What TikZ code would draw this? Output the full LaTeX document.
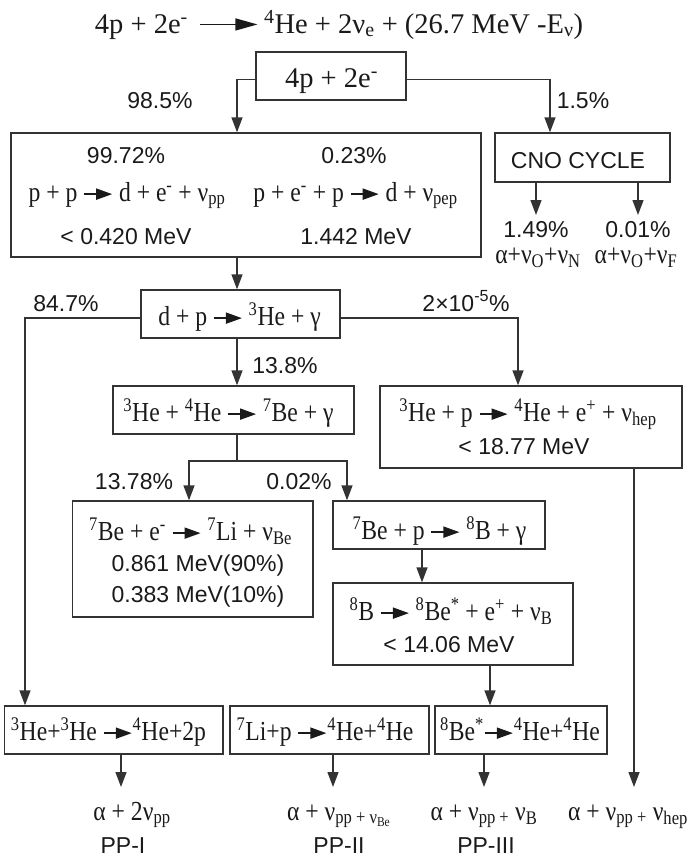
\documentclass[tikz,border=0pt]{standalone}
\usepackage{fontspec}
\setmainfont{Liberation Serif}
\newfontfamily\eqf{Liberation Serif}[FakeStretch=0.86]
\newfontfamily\sff{Liberation Sans}
\usetikzlibrary{arrows.meta,calc}
\definecolor{linecol}{HTML}{333333}
\definecolor{txtcol}{HTML}{1A1A1A}
\newcommand\rarr[1][28pt]{\tikz[baseline=-0.25em]\draw[line width=1.8pt,-{Triangle[length=16pt,width=11pt]}] (0pt,0pt)--(#1,0pt);}
\newcommand\tarr{\tikz[baseline=-0.3em]\draw[line width=1.3pt,-{Triangle[length=22pt,width=12pt]}] (0pt,0pt)--(57pt,0pt);}
\begin{document}
\begin{tikzpicture}[x=1pt,y=-1pt,
  box/.style={draw=linecol,line width=1.3pt,inner sep=0pt},
  arr/.style={draw=linecol,line width=1.3pt,-{Triangle[length=15pt,width=11pt]}},
  ln/.style={draw=linecol,line width=1.3pt},
  tx/.style={inner sep=0pt,anchor=base,text=txtcol},
  eqt/.style={tx,font=\eqf\fontsize{27.5}{32}\selectfont},
  pct/.style={tx,font=\sff\fontsize{23}{28}\selectfont},
  ttl/.style={tx,font=\rmfamily\fontsize{28.5}{34}\selectfont}]
\useasboundingbox (0,0) rectangle (686,862);
\fill[white] (0,0) rectangle (686,862);

% boxes
\node[box,minimum width=150pt,minimum height=48pt] (top) at (331,76) {};
\node[box,minimum width=470pt,minimum height=124pt] (big) at (246,195) {};
\node[box,minimum width=175pt,minimum height=49pt] (cno) at (582.5,157.5) {};
\node[box,minimum width=199pt,minimum height=48pt] (dp) at (240.5,314) {};
\node[box,minimum width=241pt,minimum height=48pt] (he34) at (233.5,410) {};
\node[box,minimum width=302pt,minimum height=82pt] (hep) at (531,427) {};
\node[box,minimum width=240.5pt,minimum height=116pt] (be7e) at (192.75,559) {};
\node[box,minimum width=212pt,minimum height=48pt] (be7p) at (439,525) {};
\node[box,minimum width=240pt,minimum height=82pt] (b8) at (453,624) {};
\node[box,minimum width=218.6pt,minimum height=48pt] (pp1) at (113.7,730) {};
\node[box,minimum width=199pt,minimum height=48pt] (pp2) at (329.5,730) {};
\node[box,minimum width=172pt,minimum height=48pt] (pp3) at (521,730) {};

% helper coordinates
\coordinate (xA) at (237,0);
\coordinate (xB) at (550,0);
\coordinate (xC) at (25,0);
\coordinate (xD) at (518,0);
\coordinate (split) at (237,461);
\coordinate (xE) at (189,0);
\coordinate (xF) at (347,0);
\coordinate (xG) at (422,0);
\coordinate (xH) at (490,0);
\coordinate (endI) at (634,787);
\coordinate (end1) at (121,787);
\coordinate (end2) at (333,787);
\coordinate (end3) at (484,787);
\coordinate (endc1) at (536,215);
\coordinate (endc2) at (638,215);

% connectors
\draw[arr] ([yshift=-3.5pt]top.west) -| (xA |- big.north);
\draw[arr] ([yshift=-3.5pt]top.east) -| (xB |- cno.north);
\draw[arr] (endc1 |- cno.south) -- (endc1);
\draw[arr] (endc2 |- cno.south) -- (endc2);
\draw[arr] (xA |- big.south) -- (xA |- dp.north);
\draw[arr] ([yshift=-4pt]dp.west) -| (xC |- pp1.north);
\draw[arr] ([yshift=-4pt]dp.east) -| (xD |- hep.north);
\draw[arr] (xA |- dp.south) -- (xA |- he34.north);
\draw[ln] (xA |- he34.south) -- (split);
\draw[arr] (split) -| (xE |- be7e.north);
\draw[arr] (split) -| (xF |- be7p.north);
\draw[arr] (xG |- be7p.south) -- (xG |- b8.north);
\draw[arr] (xH |- b8.south) -- (xH |- pp3.north);
\draw[arr] (endI |- hep.south) -- (endI);
\draw[arr] (end1 |- pp1.south) -- (end1);
\draw[arr] (end2 |- pp2.south) -- (end2);
\draw[arr] (end3 |- pp3.south) -- (end3);

% texts
\node[ttl] (title) at (339,33) {4p + 2e\textsuperscript{-}\hspace{12pt}\tarr\hspace{6pt}\textsuperscript{4}He + 2ν\textsubscript{e} + (26.7 MeV -E\textsubscript{ν})};
\node[ttl] (toptx) at (331.5,87) {4p + 2e\textsuperscript{-}};
\node[pct] (p985) at (160,108) {98.5\%};
\node[pct] (p15) at (583,108) {1.5\%};
\node[pct] (p9972) at (126,163) {99.72\%};
\node[pct] (p023) at (354,163) {0.23\%};
\node[eqt] (eq1) at (127,201) {p + p \rarr{} d + e\textsuperscript{-} + ν\textsubscript{pp}};
\node[eqt] (eq2) at (355.5,201) {p + e\textsuperscript{-} + p \rarr{} d + ν\textsubscript{pep}};
\node[pct] (e0420) at (126,244) {< 0.420 MeV};
\node[pct] (e1442) at (356,244) {1.442 MeV};
\node[pct] (cnotx) at (578,168) {CNO CYCLE};
\node[pct] (p149) at (536,237) {1.49\%};
\node[pct] (p001) at (638,237) {0.01\%};
\node[eqt] (acno1) at (538,263) {α+ν\textsubscript{O}+ν\textsubscript{N}};
\node[eqt] (acno2) at (636,263) {α+ν\textsubscript{O}+ν\textsubscript{F}};
\node[pct] (p847) at (66,311) {84.7\%};
\node[pct] (p2e5) at (466,311) {2×10\textsuperscript{-5}\%};
\node[eqt] (dptx) at (239.5,325) {d + p \rarr{} \textsuperscript{3}He + γ};
\node[pct] (p138) at (285,373) {13.8\%};
\node[eqt] (he34tx) at (228.5,421) {\textsuperscript{3}He + \textsuperscript{4}He \rarr{} \textsuperscript{7}Be + γ};
\node[eqt] (hep1) at (528,421) {\textsuperscript{3}He + p \rarr{} \textsuperscript{4}He + e\textsuperscript{+} + ν\textsubscript{hep}};
\node[pct] (hep2) at (524,454) {< 18.77 MeV};
\node[pct] (p1378) at (134,489) {13.78\%};
\node[pct] (p002) at (299,489) {0.02\%};
\node[eqt] (be7e1) at (190.5,540) {\textsuperscript{7}Be + e\textsuperscript{-} \rarr{} \textsuperscript{7}Li + ν\textsubscript{Be}};
\node[pct] (be7e2) at (198,571) {0.861 MeV(90\%)};
\node[pct] (be7e3) at (198,602) {0.383 MeV(10\%)};
\node[eqt] (be7ptx) at (439.5,539) {\textsuperscript{7}Be + p \rarr{} \textsuperscript{8}B + γ};
\node[eqt] (b81) at (451,620) {\textsuperscript{8}B \rarr{} \textsuperscript{8}Be\textsuperscript{*} + e\textsuperscript{+} + ν\textsubscript{B}};
\node[pct] (b82) at (449,652) {< 14.06 MeV};
\node[eqt] (pp1tx) at (108.5,740) {\textsuperscript{3}He+\textsuperscript{3}He \rarr{}\textsuperscript{4}He+2p};
\node[eqt] (pp2tx) at (325,740) {\textsuperscript{7}Li+p \rarr{}\textsuperscript{4}He+\textsuperscript{4}He};
\node[eqt] (pp3tx) at (520,740) {\textsuperscript{8}Be\textsuperscript{*}\rarr{}\textsuperscript{4}He+\textsuperscript{4}He};
\node[eqt] (out1) at (132,820) {α + 2ν\textsubscript{pp}};
\node[eqt] (out2) at (339,820) {α + ν\textsubscript{pp + ν\textsubscript{Be}}};
\node[eqt] (out3) at (484,820) {α + ν\textsubscript{pp +} ν\textsubscript{B}};
\node[eqt] (out4) at (628,820) {α + ν\textsubscript{pp +} ν\textsubscript{hep}};
\node[pct] (ppI) at (123,853) {PP-I};
\node[pct] (ppII) at (339,853) {PP-II};
\node[pct] (ppIII) at (486,853) {PP-III};
\end{tikzpicture}
\end{document}
